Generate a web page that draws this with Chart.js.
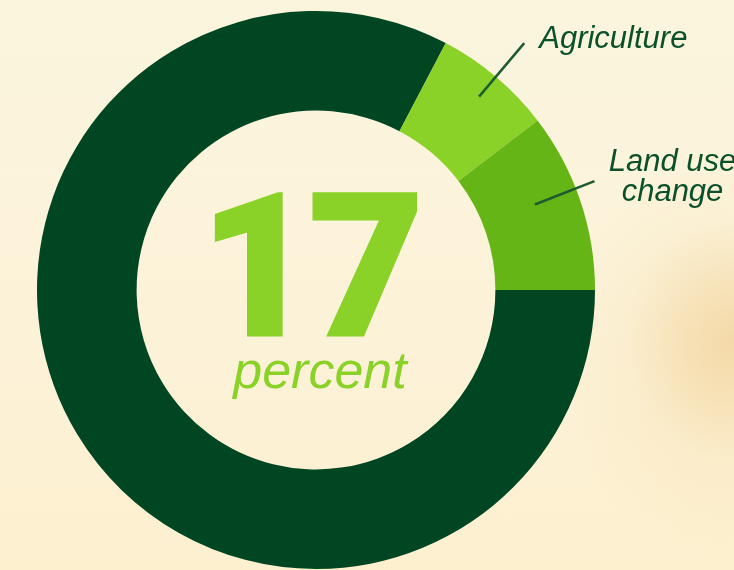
<!DOCTYPE html>
<html>
<head>
<meta charset="utf-8">
<script src="https://cdn.jsdelivr.net/npm/chart.js@4"></script>
<style>
    html, body {
        margin: 0;
        padding: 0;
    }
    body {
        width: 734px;
        height: 570px;
        overflow: hidden;
        background:
            radial-gradient(ellipse 110px 120px at 735px 340px, rgba(240, 205, 145, 0.55), rgba(240, 205, 145, 0) 100%),
            radial-gradient(ellipse 160px 200px at 720px 360px, rgba(245, 220, 170, 0.45), rgba(245, 220, 170, 0) 100%),
            linear-gradient(180deg, #fbf5de 0%, #fcf2d8 60%, #fdf0cf 100%);
    }
    #wrap {
        position: relative;
        width: 734px;
        height: 570px;
    }
</style>
</head>
<body>
<div id="wrap"><canvas id="chart" width="734" height="570"></canvas></div>
<script>
// Share of emissions (percent)
const categories = ['Other', 'Agriculture', 'Land use change'];
const shares = [82.7, 6.9, 10.4];
const sliceColors = ['#014622', '#8ad228', '#66b516'];
const totalLabel = '17';
const totalUnit = 'percent';

// Leader line placement per labelled slice (index into the data)
const callouts = [
    { index: 1, lines: ['Agriculture'], at: 0.5, from: -26, to: 44, dx: 15, dy: 5, align: 'left' },
    { index: 2, lines: ['Land use', 'change'], at: 0.43, from: -44, to: 20, dx: 78, dy: -10, align: 'center' }
];

const labelsPlugin = {
    id: 'callouts',
    afterDraw(chart) {
        const ctx = chart.ctx;
        const meta = chart.getDatasetMeta(0);

        // center text
        const first = meta.data[0];
        const cx = first.x;
        const cy = first.y;
        ctx.save();
        ctx.fillStyle = '#8ad228';
        ctx.strokeStyle = '#8ad228';
        ctx.textAlign = 'center';
        ctx.textBaseline = 'alphabetic';
        ctx.font = '900 198px Roboto, "Liberation Sans", sans-serif';
        ctx.letterSpacing = '-6px';
        ctx.lineWidth = 3;
        ctx.lineJoin = 'miter';
        ctx.fillText(totalLabel, cx - 7, cy + 45);
        ctx.strokeText(totalLabel, cx - 7, cy + 45);
        ctx.letterSpacing = '0px';
        ctx.font = 'italic 52px Arial, "Liberation Sans", sans-serif';
        ctx.fillText(totalUnit, cx + 4, cy + 98);

        // slice callouts
        callouts.forEach(c => {
            const arc = meta.data[c.index];
            const angle = arc.startAngle + (arc.endAngle - arc.startAngle) * c.at;
            const r1 = arc.outerRadius + c.from;
            const r2 = arc.outerRadius + c.to;
            const x1 = arc.x + Math.cos(angle) * r1;
            const y1 = arc.y + Math.sin(angle) * r1;
            const x2 = arc.x + Math.cos(angle) * r2;
            const y2 = arc.y + Math.sin(angle) * r2;

            ctx.strokeStyle = '#1d5c31';
            ctx.lineWidth = 2.5;
            ctx.beginPath();
            ctx.moveTo(x1, y1);
            ctx.lineTo(x2, y2);
            ctx.stroke();

            ctx.fillStyle = '#0a512a';
            ctx.textAlign = c.align;
            ctx.font = 'italic 31px Arial, "Liberation Sans", sans-serif';
            c.lines.forEach((line, i) => {
                ctx.fillText(line, x2 + c.dx, y2 + c.dy + i * 30);
            });
        });
        ctx.restore();
    }
};

new Chart(document.getElementById('chart').getContext('2d'), {
    type: 'doughnut',
    data: {
        labels: categories,
        datasets: [{
            data: shares,
            backgroundColor: sliceColors,
            borderWidth: 0
        }]
    },
    options: {
        responsive: false,
        animation: false,
        rotation: 90,
        cutout: '64.3%',
        layout: {
            padding: { left: 37, right: 139, top: 11, bottom: 1 }
        },
        plugins: {
            legend: { display: false },
            tooltip: { enabled: false }
        }
    },
    plugins: [labelsPlugin]
});
</script>
</body>
</html>
